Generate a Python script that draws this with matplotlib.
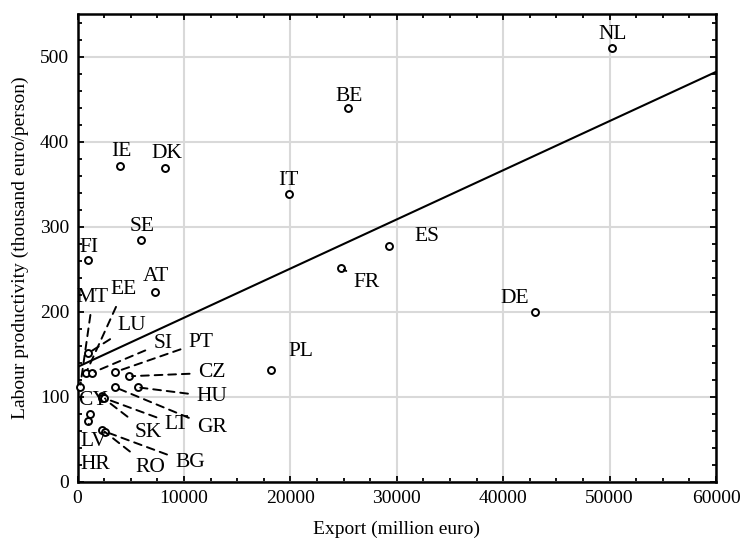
import numpy as np
import matplotlib
matplotlib.use('Agg')
import matplotlib.pyplot as plt
from matplotlib.ticker import MultipleLocator

# country codes, export (million euro) and labour productivity (thousand euro/person)
countries = ['NL', 'BE', 'IE', 'DK', 'IT', 'SE', 'FI', 'AT', 'ES', 'FR', 'DE', 'PL',
             'MT', 'EE', 'LU', 'SI', 'PT', 'CZ', 'HU', 'GR', 'CY', 'LT', 'SK',
             'HR', 'LV', 'RO', 'BG']
export = [50200, 25450, 3950, 8250, 19900, 6000, 950, 7300, 29300, 24800, 43000, 18150,
          230, 790, 980, 1350, 3530, 4850, 5630, 3530, 2250, 2330, 2450,
          1160, 980, 2310, 2560]
productivity = [510, 440, 371, 369, 338, 284, 261, 223, 277, 251, 200, 131,
                111, 128, 151, 128, 129, 124, 111, 111, 101, 99, 98,
                80, 71, 61, 59]

# fitted linear trend
trend_intercept = 135.0
trend_slope = 0.005783

# label placement (data coords) and whether a dashed leader is drawn
label_pos = {
    'NL': (50300, 526), 'BE': (25500, 453), 'IE': (4070, 388), 'DK': (8380, 386),
    'IT': (19800, 354), 'SE': (6040, 300), 'FI': (1070, 276), 'AT': (7350, 241),
    'ES': (32800, 288), 'FR': (27200, 234), 'DE': (41100, 216), 'PL': (21000, 153),
    'MT': (1440, 217), 'EE': (4350, 226), 'LU': (5100, 184), 'SI': (8000, 163),
    'PT': (11600, 164), 'CZ': (12600, 128), 'HU': (12600, 100), 'GR': (12600, 64),
    'CY': (1440, 96), 'LT': (9300, 67), 'SK': (6600, 58), 'HR': (1630, 20),
    'LV': (1540, 47), 'RO': (6800, 17), 'BG': (10550, 22),
}
leader = {'FR', 'MT', 'EE', 'LU', 'SI', 'PT', 'CZ', 'HU', 'GR', 'LT', 'SK',
          'LV', 'RO', 'BG'}

plt.rcParams['font.family'] = ['Liberation Serif', 'DejaVu Serif']

fig = plt.figure(figsize=(7.42, 5.5), dpi=100)
ax = fig.add_axes([0.1046, 0.1242, 0.8604, 0.8503])

ax.grid(True, which='major', color='#d9d9d9', linewidth=1.5, zorder=0)

xs = np.array([0, 60000])
ax.plot(xs, trend_intercept + trend_slope * xs, color='black', lw=1.5, zorder=2)

ax.plot(export, productivity, 'o', ms=5, mfc='white', mec='black', mew=1.4,
        zorder=4, clip_on=False)

for c, x, y in zip(countries, export, productivity):
    tx, ty = label_pos[c]
    if c in leader:
        ax.annotate(c, xy=(x, y), xytext=(tx, ty), ha='center', va='center',
                    fontsize=15.5, zorder=5,
                    arrowprops=dict(arrowstyle='-', ls=(0, (4, 3)), lw=1.4,
                                    color='black', shrinkA=4, shrinkB=2))
    else:
        ax.text(tx, ty, c, ha='center', va='center', fontsize=15.5, zorder=5)

ax.set_xlim(0, 60000)
ax.set_ylim(0, 550)
ax.xaxis.set_major_locator(MultipleLocator(10000))
ax.xaxis.set_minor_locator(MultipleLocator(2500))
ax.yaxis.set_major_locator(MultipleLocator(100))
ax.yaxis.set_minor_locator(MultipleLocator(20))
ax.set_yticks([0, 100, 200, 300, 400, 500])
ax.tick_params(which='both', direction='in', top=True, right=True, labelsize=14,
               width=1.3)
ax.tick_params(which='major', length=4, pad=6)
ax.tick_params(which='minor', length=3)
for s in ax.spines.values():
    s.set_linewidth(1.8)

ax.set_xlabel('Export (million euro)', fontsize=14, labelpad=10)
ax.set_ylabel('Labour productivity (thousand euro/person)', fontsize=14, labelpad=8)

fig.savefig('out.png', dpi=100)
